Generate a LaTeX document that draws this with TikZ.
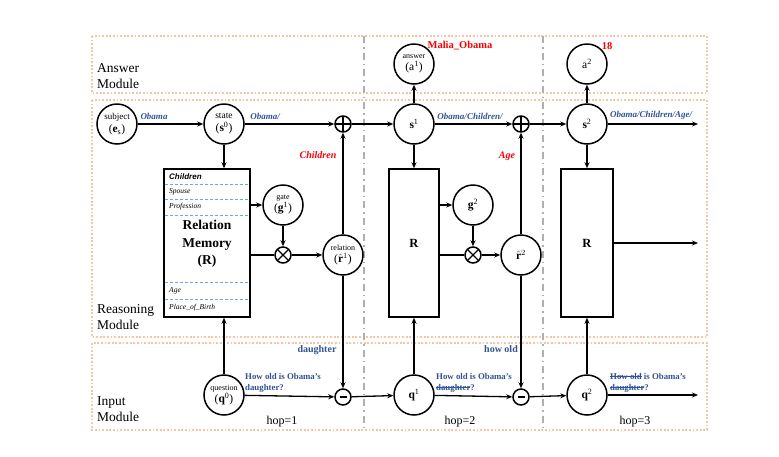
\documentclass[tikz,border=0pt]{standalone}
\usepackage{fontspec}
\setmainfont{Liberation Serif}
\newfontfamily\arialfont{Liberation Sans}
\usetikzlibrary{arrows.meta}
\definecolor{lblue}{RGB}{47,84,150}
\definecolor{frameorange}{RGB}{248,196,164}
\definecolor{hopgray}{RGB}{175,175,175}
\definecolor{memblue}{RGB}{120,165,215}
\newcommand\mystrike[1]{\setbox0\hbox{#1}\rlap{\copy0}\rule[0.6ex]{\wd0}{0.8pt}}
\begin{document}
\begin{tikzpicture}[x=1pt,y=-1pt,
  arr/.style={-{Stealth[length=6pt,width=5pt]}, line width=1.3pt},
  ln/.style={line width=1.3pt},
  cnode/.style={circle,draw,line width=1.5pt,minimum size=40pt,inner sep=0pt,align=center,font=\fontsize{11.5}{12}\selectfont},
  opnode/.style={circle,draw,line width=1.5pt,minimum size=16pt,inner sep=0pt},
  oplus/.style={opnode,path picture={\draw[line width=1.3pt] (path picture bounding box.north) -- (path picture bounding box.south) (path picture bounding box.west) -- (path picture bounding box.east);}},
  otimes/.style={opnode,path picture={\draw[line width=1.3pt] (path picture bounding box.north west) -- (path picture bounding box.south east) (path picture bounding box.north east) -- (path picture bounding box.south west);}},
  ominus/.style={opnode,path picture={\draw[line width=2pt] ([xshift=-3.5pt]path picture bounding box.center) -- ([xshift=3.5pt]path picture bounding box.center);}},
  membox/.style={draw,line width=1.5pt,minimum height=148pt,inner sep=0pt},
  frame/.style={draw=frameorange,line width=2pt,dash pattern=on 1.8pt off 1.8pt},
  hopline/.style={draw=hopgray,line width=1.5pt,dash pattern=on 7pt off 4pt on 1.5pt off 4pt},
  memline/.style={draw=memblue,line width=0.8pt,dash pattern=on 3pt off 2pt},
  blab/.style={text=lblue,font=\fontsize{9}{10}\selectfont\bfseries\itshape,inner sep=1pt},
  qlab/.style={text=lblue,font=\fontsize{8.8}{11}\selectfont\bfseries,align=left,inner sep=1pt,anchor=west},
  rlab/.style={text=red,font=\fontsize{10}{11}\selectfont\bfseries\itshape,inner sep=1pt},
  modlab/.style={font=\fontsize{13.5}{16}\selectfont,align=left,anchor=west,inner sep=0pt},
  memtxt/.style={font=\fontsize{7.5}{8}\selectfont\itshape,anchor=west,inner sep=0pt},
  hoplab/.style={font=\fontsize{12}{12}\selectfont,inner sep=0pt}
]
\useasboundingbox (0,0) rectangle (779,456);

% module frames
\draw[frame] (92,36) rectangle (707,93);
\draw[frame] (92,100) rectangle (707,337);
\draw[frame] (92,343) rectangle (707,430);
% hop separators
\draw[hopline] (364,36) -- (364,430);
\draw[hopline] (543,36) -- (543,430);

\node[modlab] (lblA) at (97,76) {Answer\\Module};
\node[modlab] (lblR) at (97,317) {Reasoning\\Module};
\node[modlab] (lblI) at (97,409) {Input\\Module};

% nodes, row of states
\node[cnode] (subj) at (117,124) {{\fontsize{9}{9}\selectfont subject}\\[1pt](\textbf{e}\textsubscript{s})};
\node[cnode] (s0) at (224,124) {{\fontsize{9.5}{9}\selectfont state}\\[1pt](\textbf{s}\textsuperscript{0})};
\node[oplus] (op1) at (343,124) {};
\node[cnode] (s1) at (414,124) {\textbf{s}\textsuperscript{1}};
\node[oplus] (op2) at (521,124) {};
\node[cnode] (s2) at (587,124) {\textbf{s}\textsuperscript{2}};
\coordinate (e1) at (698,124);

\node[cnode] (a1) at (414,64) {{\fontsize{8}{8}\selectfont answer}\\[0pt](a\textsuperscript{1})};
\node[cnode] (a2) at (587,64) {a\textsuperscript{2}};

% memory boxes
\node[membox,minimum width=86pt] (mem) at (207,243) {};
\node[membox,minimum width=50pt] (R2) at (414,243) {\fontsize{12.5}{12}\selectfont\bfseries R};
\node[membox,minimum width=52pt] (R3) at (587,243) {\fontsize{12.5}{12}\selectfont\bfseries R};
\coordinate (e3) at (698,243);

\draw[memline] (165,184) -- (249,184);
\draw[memline] (165,199) -- (249,199);
\draw[memline] (165,215) -- (249,215);
\draw[memline] (165,282) -- (249,282);
\draw[memline] (165,299) -- (249,299);
\node[memtxt,font=\fontsize{8}{8}\selectfont\arialfont\bfseries\itshape] (mChildren) at (169,177) {Children};
\node[memtxt] (mSpouse) at (169,192) {Spouse};
\node[memtxt] (mProf) at (169,207) {Profession};
\node[font=\fontsize{13.5}{17.5}\selectfont\bfseries,align=center] (mTitle) at (207,244) {Relation\\Memory\\(R)};
\node[memtxt] (mAge) at (169,291) {Age};
\node[memtxt] (mPOB) at (169,308) {Place\_of\_Birth};

% gates and relations
\node[cnode] (g1) at (283,205) {{\fontsize{8}{8}\selectfont gate}\\[0pt](\textbf{g}\textsuperscript{1})};
\node[otimes] (ot1) at (283,255) {};
\node[cnode] (r1) at (343,255) {{\fontsize{8}{8}\selectfont relation}\\[0pt]($\hat{\mathbf{r}}^{1}$)};
\node[cnode] (g2) at (473,205) {\textbf{g}\textsuperscript{2}};
\node[otimes] (ot2) at (473,255) {};
\node[cnode] (r2) at (521,255) {$\hat{\mathbf{r}}^{2}$};

% input row
\node[cnode] (q0) at (224,395) {{\fontsize{8}{8}\selectfont question}\\[0pt](\textbf{q}\textsuperscript{0})};
\node[ominus] (om1) at (343,397) {};
\node[cnode] (q1) at (414,395) {\textbf{q}\textsuperscript{1}};
\node[ominus] (om2) at (521,397) {};
\node[cnode] (q2) at (587,395) {\textbf{q}\textsuperscript{2}};
\coordinate (e2) at (698,395);

% connectors: states
\draw[arr] (subj) -- (s0);
\draw[arr] (s0) -- (op1);
\draw[arr] (op1) -- (s1);
\draw[arr] (s1) -- (op2);
\draw[arr] (op2) -- (s2);
\draw[arr] (s2) -- (e1);
\draw[arr] (s1) -- (a1);
\draw[arr] (s2) -- (a2);
\draw[arr] (s0) -- (s0 |- mem.north);
\draw[arr] (s1) -- (R2.north);
\draw[arr] (s2) -- (R3.north);
\draw[arr] (q0) -- (q0 |- mem.south);
\draw[arr] (q1) -- (R2.south);
\draw[arr] (q2) -- (R3.south);

% hop 1 reasoning
\draw[arr] (mem.east |- g1) -- (g1);
\draw[ln] (mem.east |- ot1) -- (ot1);
\draw[arr] (g1) -- (ot1);
\draw[arr] (ot1) -- (r1);
\draw[arr] (r1) -- (op1);
\draw[arr] (r1) -- (om1);
% hop 2 reasoning
\draw[arr] (R2.east |- g2) -- (g2);
\draw[ln] (R2.east |- ot2) -- (ot2);
\draw[arr] (g2) -- (ot2);
\draw[arr] (ot2) -- (r2);
\draw[arr] (r2) -- (op2);
\draw[arr] (r2) -- (om2);
% hop 3
\draw[arr] (R3.east |- e3) -- (e3);

% input connectors
\draw[arr] (q0) -- (om1);
\draw[arr] (om1) -- (q1);
\draw[arr] (q1) -- (om2);
\draw[arr] (om2) -- (q2);
\draw[arr] (q2) -- (e2);

% labels
\node[blab] (tObama) at (154,116) {Obama};
\node[blab] (tObama2) at (265,116) {Obama/};
\node[blab] (tObama3) at (470,116) {Obama/Children/};
\node[blab] (tObama4) at (651,115) {Obama/Children/Age/};
\node[rlab] (tChildren) at (318,155) {Children};
\node[rlab] (tAge) at (507,156) {Age};
\node[rlab,font=\fontsize{10.5}{11}\selectfont\bfseries] (tMalia) at (460,46) {Malia\_Obama};
\node[rlab,font=\fontsize{10.5}{11}\selectfont\bfseries] (t18) at (607,46) {18};
\node[blab,font=\fontsize{10}{10}\selectfont\bfseries] (tDaughter) at (317,350) {daughter};
\node[blab,font=\fontsize{10}{10}\selectfont\bfseries] (tHowold) at (501,349) {how old};
\node[qlab] (tQ0) at (244,383) {How old is Obama’s\\daughter?};
\node[qlab] (tQ1) at (435,383) {How old is Obama’s\\\mystrike{daughter}?};
\node[qlab] (tQ2) at (609,383) {\mystrike{How old} is Obama’s\\\mystrike{daughter}?};

\node[hoplab] (h1) at (282,422) {hop=1};
\node[hoplab] (h2) at (460,422) {hop=2};
\node[hoplab] (h3) at (635,422) {hop=3};
\end{tikzpicture}
\end{document}
